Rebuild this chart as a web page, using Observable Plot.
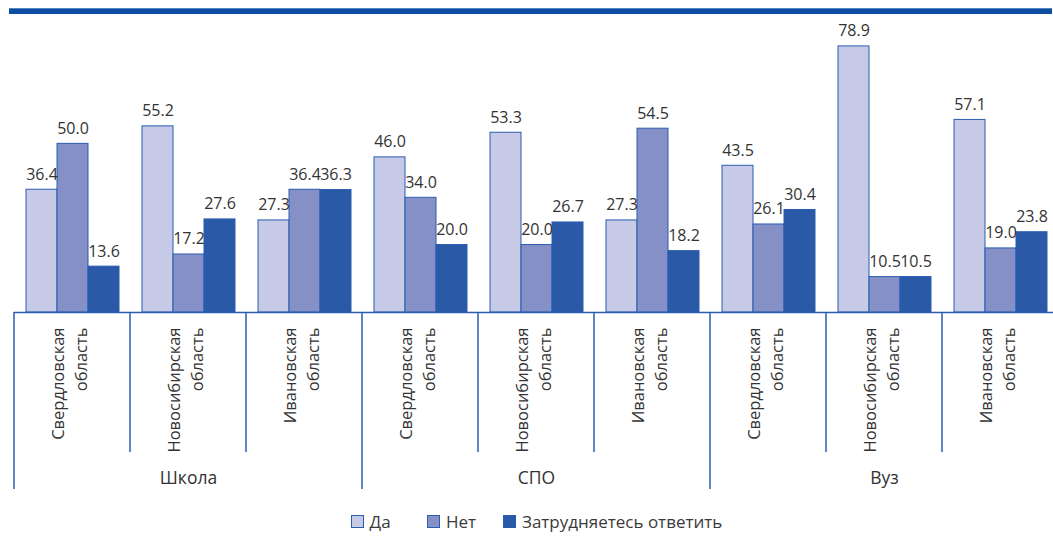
<!DOCTYPE html>
<html><head><meta charset="utf-8">
<script src="https://cdn.jsdelivr.net/npm/d3@7"></script>
<script src="https://cdn.jsdelivr.net/npm/@observablehq/plot@0.6"></script>
<style>
body{margin:0;background:#fff;font-family:"Open Sans",sans-serif;}
#wrap{position:relative;width:1053px;height:538px;overflow:hidden;background:#fff;}
#chart svg{display:block;}
#legend{position:absolute;left:0;top:510px;width:1053px;height:22px;font-size:17px;color:#3a3a3a;font-family:"Open Sans",sans-serif;}
#legend .item{position:absolute;top:0;display:flex;align-items:center;height:22px;white-space:nowrap;}
#legend .sw{width:11px;height:11px;border:1px solid #2a5db0;margin-right:6px;box-sizing:content-box;}
</style></head><body><div id="wrap"><div id="chart"></div><div id="legend"></div></div>
<script>
const groups = ["Школа", "СПО", "Вуз"];
const regions = ["Свердловская\nобласть", "Новосибирская\nобласть", "Ивановская\nобласть"];
const series = ["Да", "Нет", "Затрудняетесь ответить"];
const yesValues  = [36.4, 55.2, 27.3, 46.0, 53.3, 27.3, 43.5, 78.9, 57.1];
const noValues   = [50.0, 17.2, 36.4, 34.0, 20.0, 54.5, 26.1, 10.5, 19.0];
const hardValues = [13.6, 27.6, 36.3, 20.0, 26.7, 18.2, 30.4, 10.5, 23.8];
const colors = ["#c6cae6", "#8591c6", "#2a59a8"];
const legendLeft = [350.5, 427, 503];

const cats = [];
const catRows = [];
groups.forEach((g, gi) => regions.forEach((r, ri) => {
  const key = g + "|" + r;
  cats.push(key);
  catRows.push({cat: key, label: r, group: g, gi, ri});
}));
const seriesValues = [yesValues, noValues, hardValues];
const rows = [];
cats.forEach((c, i) => series.forEach((s, si) => rows.push({cat: c, series: s, value: seriesValues[si][i]})));
const groupRows = catRows.filter(d => d.ri === 1);

const edge = "#2a5db0";
const chart = Plot.plot({
  width: 1053, height: 500,
  marginLeft: 10, marginRight: 0, marginTop: 0, marginBottom: 188,
  style: {fontFamily: "Open Sans", background: "transparent", overflow: "visible"},
  fx: {domain: cats, range: [10, 1061], padding: 0, axis: null},
  x: {domain: series, paddingInner: 0, paddingOuter: 0.35, axis: null},
  y: {domain: [0, 80], range: [312, 42.2], axis: null},
  color: {domain: series, range: colors},
  marks: [
    Plot.barY(rows, {fx: "cat", x: "series", y: "value", fill: "series", stroke: edge, strokeWidth: 1}),
    Plot.ruleY([0], {stroke: edge, strokeWidth: 1.5}),
    Plot.text(rows, {fx: "cat", x: "series", y: "value", text: d => d.value.toFixed(1), dy: -10, lineAnchor: "bottom", fontSize: 16, fill: "#333"}),
    Plot.text(catRows, {fx: "cat", text: "label", frameAnchor: "bottom", rotate: -90, textAnchor: "end", dx: 14, dy: 15, lineHeight: 1.37, fontSize: 16.5, fill: "#333"}),
    Plot.text(groupRows, {fx: "cat", text: "group", frameAnchor: "bottom", dy: 171, fontSize: 17.5, fill: "#333"})
  ]
});
document.getElementById("chart").appendChild(chart);

// decorations using the library's scales
const fx = chart.scale("fx");
const ys = chart.scale("y");
const svg = d3.select(chart);
const y0 = ys.apply(0);
const bw = fx.bandwidth;
const seps = d3.range(cats.length + 1).map(i => ({
  x: i < cats.length ? fx.apply(cats[i]) : fx.apply(cats[cats.length - 1]) + bw,
  long: i % 3 === 0
}));
svg.append("g").selectAll("line").data(seps).join("line")
  .attr("x1", d => d.x).attr("x2", d => d.x)
  .attr("y1", y0).attr("y2", d => d.long ? 489 : 452)
  .attr("stroke", edge).attr("stroke-width", 1.5);
svg.append("rect").attr("x", 9).attr("y", 8.3).attr("width", 1043).attr("height", 5.7).attr("fill", "#0b4ea2");

const legend = d3.select("#legend");
series.forEach((s, i) => {
  const it = legend.append("div").attr("class", "item").style("left", legendLeft[i] + "px");
  it.append("div").attr("class", "sw").style("background", colors[i]);
  it.append("span").text(s);
});
</script></body></html>
